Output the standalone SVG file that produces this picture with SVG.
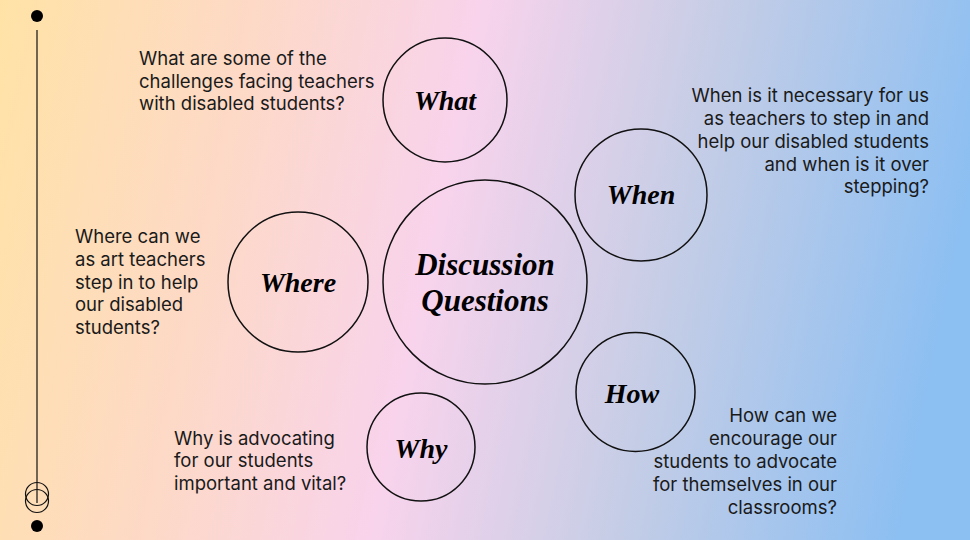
<svg xmlns="http://www.w3.org/2000/svg" width="970" height="540" viewBox="0 0 970 540">
<defs>
<linearGradient id="bg" x1="0" y1="0" x2="970" y2="200" gradientUnits="userSpaceOnUse">
<stop offset="0" stop-color="#FFE3A6"/>
<stop offset="0.25" stop-color="#FDD9C6"/>
<stop offset="0.48" stop-color="#F8D3EC"/>
<stop offset="0.72" stop-color="#C5CDE6"/>
<stop offset="1" stop-color="#8CBFF2"/>
</linearGradient>
<style>
.c{fill:none;stroke:#111;stroke-width:1.5}
.t{font-family:"Inter","Liberation Sans",sans-serif;font-size:18.5px;fill:#1a1a1a}
.r{text-anchor:end}
.h{font-family:"Liberation Serif","DejaVu Serif",serif;font-weight:bold;font-style:italic;fill:#000;text-anchor:middle}
</style>
</defs>
<rect width="970" height="540" fill="url(#bg)"/>
<g id="timeline">
<circle cx="37" cy="16" r="6" fill="#000"/>
<line x1="37" y1="30" x2="37" y2="503" stroke="#111" stroke-width="1.2"/>
<circle cx="37" cy="494" r="11.5" fill="none" stroke="#111" stroke-width="1.2"/>
<circle cx="37" cy="501" r="11.5" fill="none" stroke="#111" stroke-width="1.2"/>
<circle cx="37" cy="526" r="6" fill="#000"/>
</g>
<g id="connectors"></g>
<g id="center">
<circle class="c" cx="485" cy="282" r="102"/>
<text class="h" x="485" y="275" font-size="31">Discussion</text>
<text class="h" x="485" y="311" font-size="31">Questions</text>
</g>
<g id="what">
<circle class="c" cx="445" cy="100" r="62"/>
<text class="h" x="445" y="110" font-size="28">What</text>
<text class="t"><tspan x="139" y="65">What are some of the</tspan><tspan x="139" y="88">challenges facing teachers</tspan><tspan x="139" y="110">with disabled students?</tspan></text>
</g>
<g id="when">
<circle class="c" cx="641" cy="195" r="66"/>
<text class="h" x="641" y="204" font-size="28">When</text>
<text class="t r"><tspan x="929" y="102">When is it necessary for us</tspan><tspan x="929" y="125">as teachers to step in and</tspan><tspan x="929" y="148">help our disabled students</tspan><tspan x="929" y="171">and when is it over</tspan><tspan x="929" y="193">stepping?</tspan></text>
</g>
<g id="where">
<circle class="c" cx="298" cy="282" r="70"/>
<text class="h" x="298" y="292" font-size="28">Where</text>
<text class="t"><tspan x="75" y="243">Where can we</tspan><tspan x="75" y="266">as art teachers</tspan><tspan x="75" y="289">step in to help</tspan><tspan x="75" y="311">our disabled</tspan><tspan x="75" y="334">students?</tspan></text>
</g>
<g id="how">
<circle class="c" cx="635.5" cy="392" r="59.5"/>
<text class="h" x="632" y="403" font-size="28">How</text>
<text class="t r"><tspan x="837" y="422">How can we</tspan><tspan x="837" y="445">encourage our</tspan><tspan x="837" y="468">students to advocate</tspan><tspan x="837" y="491">for themselves in our</tspan><tspan x="837" y="514">classrooms?</tspan></text>
</g>
<g id="why">
<circle class="c" cx="421" cy="447" r="54"/>
<text class="h" x="421" y="458" font-size="28">Why</text>
<text class="t"><tspan x="174" y="445">Why is advocating</tspan><tspan x="174" y="467">for our students</tspan><tspan x="174" y="490">important and vital?</tspan></text>
</g>
</svg>
